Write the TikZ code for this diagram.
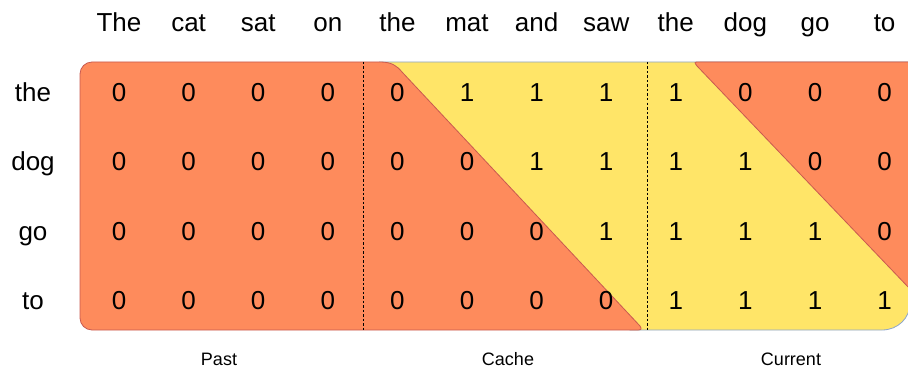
\documentclass[tikz,border=0pt]{standalone}
\usepackage{fontspec}
\setmainfont{Liberation Sans}
\definecolor{maskred}{RGB}{254,139,92}
\definecolor{maskredline}{RGB}{200,90,80}
\definecolor{maskyellow}{RGB}{255,229,104}
\definecolor{maskyellowline}{RGB}{140,165,205}
\tikzset{
  word/.style={anchor=base, inner sep=0pt, font=\fontsize{26}{30}\selectfont},
  cell/.style={anchor=base, inner sep=0pt, font=\fontsize{26}{30}\selectfont},
  region/.style={anchor=base, inner sep=0pt, font=\fontsize{18}{22}\selectfont},
  divider/.style={line width=1pt, dash pattern=on 2.5pt off 2pt},
}
\begin{document}
\begin{tikzpicture}[x=1pt,y=-1pt]
\useasboundingbox (0,0) rectangle (908,369);

% yellow band of ones
\path[fill=maskyellow, draw=maskyellowline, line width=0.8pt]
  (380,62) -- (910,62) -- (910,303) .. controls (910,318) and (898,330) .. (882,330)
  -- (630,330) -- cycle;

% masked region on the left (past and lower cache triangle)
\path[fill=maskred, draw=maskredline, line width=0.8pt]
  (80,74) .. controls (80,67.4) and (85.4,62) .. (92,62)
  -- (380,62) .. controls (392,62) and (397,66) .. (402,72)
  -- (640,326) .. controls (642,329) and (641,330) .. (638,330)
  -- (92,330) .. controls (85.4,330) and (80,324.6) .. (80,318) -- cycle;

% masked triangle on the upper right
\path[fill=maskred, draw=maskredline, line width=0.8pt]
  (700,62) -- (910,62) -- (910,289) -- (697,66) .. controls (694,62) .. (700,62) -- cycle;

% section dividers
\coordinate (d1t) at (363,62); \coordinate (d1b) at (363,330);
\coordinate (d2t) at (647,62); \coordinate (d2b) at (647,330);
\draw[divider] (d1t) -- (d1b);
\draw[divider] (d2t) -- (d2b);

% key tokens along the top
\foreach \w [count=\i from 0] in {The,cat,sat,on,the,mat,and,saw,the,dog,go,to}
  \node[word] (k\i) at ({119+69.6*\i},32) {\w};

% query tokens on the left
\foreach \w [count=\j from 0] in {the,dog,go,to}
  \node[word] (q\j) at (33,{101+69.5*\j}) {\w};

% mask values
\foreach \row [count=\j from 0] in {
  {0,0,0,0,0,1,1,1,1,0,0,0},
  {0,0,0,0,0,0,1,1,1,1,0,0},
  {0,0,0,0,0,0,0,1,1,1,1,0},
  {0,0,0,0,0,0,0,0,1,1,1,1}}
  \foreach \v [count=\i from 0] in \row
    \node[cell] (c\j-\i) at ({119+69.6*\i},{101+69.5*\j}) {\v};

% section names
\node[region] (past) at (219,365) {Past};
\node[region] (cache) at (508,365) {Cache};
\node[region] (current) at (791,365) {Current};
\end{tikzpicture}
\end{document}
